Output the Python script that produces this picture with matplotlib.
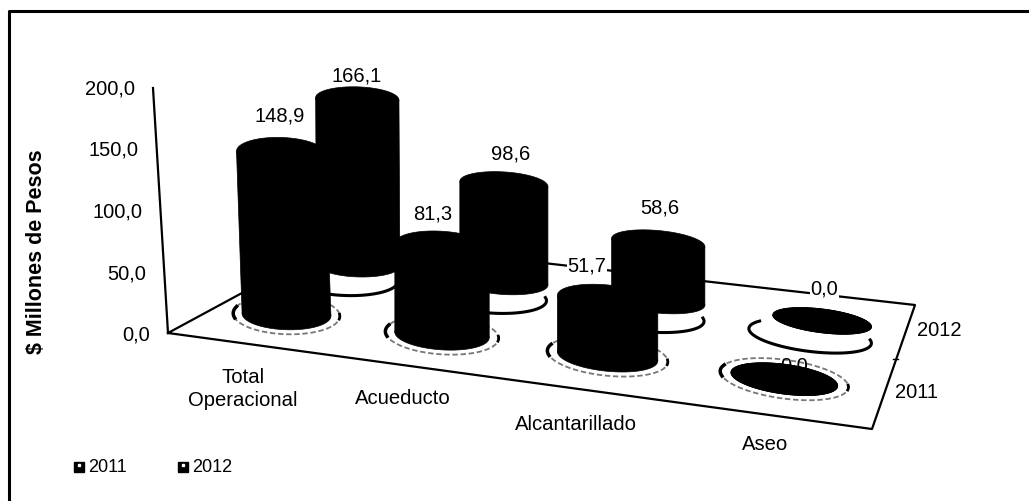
import numpy as np
import matplotlib
matplotlib.use('Agg')
import matplotlib.pyplot as plt
from matplotlib.patches import Polygon

plt.rcParams['font.family'] = ['Liberation Sans', 'DejaVu Sans']

categories = ['Total\nOperacional', 'Acueducto', 'Alcantarillado', 'Aseo']
values_2011 = [148.9, 81.3, 51.7, 0.0]
values_2012 = [166.1, 98.6, 58.6, 0.0]
y_ticks = [0, 50, 100, 150, 200]
series = ['2011', '2012']

# floor corners in pixels: front left, front right, back right, back left
corners = [(168, 333), (872, 429), (915, 305), (340, 240)]
label_pos = [(243, 389), (403, 398), (576, 424), (765, 445)]

# where the value labels sit relative to the top of each cylinder
label_dx_2011 = [-1, -9, -21, 10]
label_dy_2011 = [36, 32, 34, 13]
label_dx_2012 = [-1, 7, 2, 2]
label_dy_2012 = [23, 30, 35, 32]


def fmt(v):
    return f'{v:.1f}'.replace('.', ',')


# homography from (u, v) on the floor to picture pixels
src = [(0, 0), (1, 0), (1, 1), (0, 1)]
A = []
b = []
for (u, v), (x, y) in zip(src, corners):
    A.append([u, v, 1, 0, 0, 0, -u * x, -v * x])
    A.append([0, 0, 0, u, v, 1, -u * y, -v * y])
    b += [x, y]
h = np.linalg.solve(np.array(A, float), np.array(b, float))
H = np.append(h, 1).reshape(3, 3)


def floor(u, v):
    p = H @ np.array([u, v, 1.0])
    return np.array([p[0] / p[2], p[1] / p[2]])


def ellipse(c, a, slope, b, t=None):
    if t is None:
        t = np.linspace(0, 2 * np.pi, 80)
    ux = np.cos(np.arctan(slope))
    uy = np.sin(np.arctan(slope))
    return np.column_stack([c[0] + a * np.cos(t) * ux,
                            c[1] + a * np.cos(t) * uy + b * np.sin(t)])


fig = plt.figure(figsize=(10.29, 5.01), dpi=100)
ax = fig.add_axes([0, 0, 1, 1])
ax.set_xlim(0, 1029)
ax.set_ylim(501, 0)
ax.axis('off')

# scanned frame, only top and left survive
ax.plot([9, 9, 1029], [501, 11, 11], color='black', lw=2.2)

# wall axis and floor
wall_top = (153, 88)
ax.plot([wall_top[0], corners[0][0]], [wall_top[1], corners[0][1]], color='black', lw=1.6)
xs = [c[0] for c in corners] + [corners[0][0]]
ys = [c[1] for c in corners] + [corners[0][1]]
ax.plot(xs, ys, color='black', lw=1.6)
ax.plot([893, 898], [359, 359], color='black', lw=1)
for t in y_ticks:
    ax.text(150 - 15 * t / 200, 335 - t * 1.23, fmt(t), ha='right', va='center',
            fontsize=14.5, color='black')
ax.text(37, 252, '$ Millones de Pesos', rotation=90, ha='center', va='center',
        fontsize=15.5, fontweight='bold', color='black')

# v on the floor, u shift, lift of the base, ellipse half height, px per unit
rows = [(0.25, -0.01, 0, 15, 1.09, values_2011, label_dx_2011, label_dy_2011),
        (0.62, 0.01, 15, 12, 1.0, values_2012, label_dx_2012, label_dy_2012)]

# back row first so the front row sits on top of it
for v, du, lift, b_y, scale, vals, dxs, dys in rows[::-1]:
    for i, val in enumerate(vals):
        u = (i + 0.5) / len(vals) + du
        c = floor(u, v)
        d = floor(u + 0.01, v) - c
        # ellipses lie level near the wall, tilted at the far end
        slope = d[1] / d[0] * (u + 0.1)
        a = 0.073 * np.hypot(*d) / 0.01

        # shadow ring on the floor
        if lift:
            t = np.linspace(-0.2, np.pi + 0.6, 60)
            ring = ellipse(c - np.array([12, 0]), a * 1.24, slope, b_y * 1.3, t)
            ax.plot(ring[:, 0], ring[:, 1], color='black', lw=2.2, zorder=3)
        else:
            t = np.linspace(-0.1, 2 * np.pi, 100)
            ring = ellipse(c, a * 1.2, slope, b_y * 1.3, t)
            ax.plot(ring[:, 0], ring[:, 1], color='#777777', lw=1.3, ls=(0, (3, 1.5)), zorder=3)
            blob = ellipse(c, a * 1.2, slope, b_y * 1.3, np.linspace(2.9, 3.5, 12))
            ax.plot(blob[:, 0], blob[:, 1], color='black', lw=2.5, zorder=3)
            blob = ellipse(c, a * 1.2, slope, b_y * 1.3, np.linspace(-0.1, 0.15, 8))
            ax.plot(blob[:, 0], blob[:, 1], color='black', lw=2, zorder=3)

        # cylinder: value height above the floor, leaning toward the wall
        base = c - np.array([0, lift])
        height = val * scale
        lean = max(0, 0.061 * (1 - (c[0] - 168) / 272))
        if lift:
            lean = lean * 0.3
        top = base - np.array([lean * height, height])
        bottom_e = ellipse(base, a, slope, b_y)
        top_e = ellipse(top, a, slope, b_y)
        left = [bottom_e[np.argmin(bottom_e[:, 0])], top_e[np.argmin(top_e[:, 0])]]
        right = [top_e[np.argmax(top_e[:, 0])], bottom_e[np.argmax(bottom_e[:, 0])]]
        z = 5 if lift else 6
        for poly in (bottom_e, top_e, np.array(left + right)):
            ax.add_patch(Polygon(poly, closed=True, fc='black', ec='black', lw=0.5, zorder=z))

        # value label
        if val == 0 and not lift:
            ax.text(top[0] + dxs[i], top[1] - dys[i], fmt(val), ha='center', va='center',
                    fontsize=14.5, color='black', zorder=4)
        else:
            ax.text(top[0] + dxs[i], top[1] - dys[i], fmt(val), ha='center', va='center',
                    fontsize=14.5, color='black', zorder=7,
                    bbox=dict(fc='white', ec='none', pad=0.5) if val < 60 else None)

# category and series labels
for name, (x, y) in zip(categories, label_pos):
    ax.text(x, y, name, ha='center', va='center', fontsize=14.6, color='black', linespacing=1.25)
ax.text(939, 330, series[1], ha='center', va='center', fontsize=14.5, color='black')
ax.text(917, 392, series[0], ha='center', va='center', fontsize=14.5, color='black')

# legend
for x, name in zip([79, 183], series):
    ax.plot([x], [467], marker='s', ms=6.5, color='black', ls='none')
    ax.plot([x], [465], marker='s', ms=1.8, color='white', ls='none')
    ax.text(x + 9, 467, name, ha='left', va='center', fontsize=13, color='black')

fig.savefig('out.png', dpi=100, facecolor='white')
